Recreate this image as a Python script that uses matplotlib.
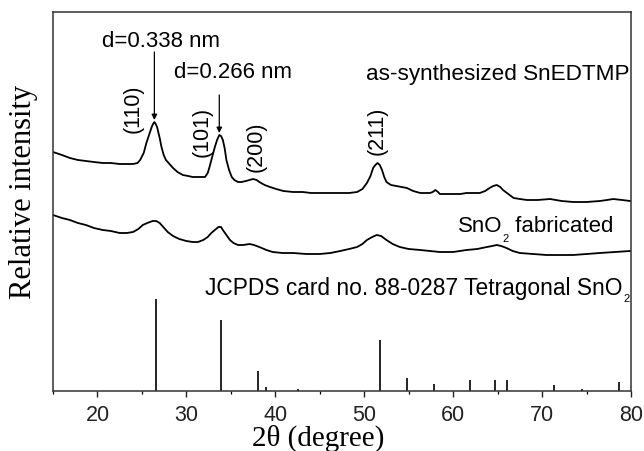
import matplotlib
matplotlib.use("Agg")
import matplotlib.pyplot as plt
from matplotlib.ticker import MultipleLocator

# ---- data (y in arbitrary offset units) ----
two_theta_top = [15.0, 16.0, 16.9, 17.8, 18.7, 19.6, 20.6, 21.5, 22.5, 23.3, 24.0, 24.5, 24.8,
                 25.2, 25.5, 25.8, 26.1, 26.25, 26.4, 26.55, 26.7, 27.0, 27.2, 27.45, 27.7,
                 28.1, 28.5, 29.0, 29.6, 30.2, 30.7, 31.4, 32.1, 32.4, 32.6, 32.9, 33.2, 33.45,
                 33.7, 33.9, 34.1, 34.3, 34.5, 34.8, 35.1, 35.4, 35.8, 36.2, 36.7, 37.1, 37.5,
                 37.9, 38.2, 38.8, 39.4, 40.1, 40.9, 42.0, 43.1, 44.0, 45.0, 46.2, 47.3, 48.3,
                 49.2, 49.8, 50.3, 50.7, 51.0, 51.25, 51.5, 51.75, 52.0, 52.25, 52.5, 53.0,
                 53.6, 54.2, 54.8, 55.5, 56.3, 57.0, 57.4, 57.7, 58.0, 58.3, 58.5, 59.2, 60.0,
                 60.8, 61.5, 62.2, 63.0, 63.6, 64.1, 64.5, 64.9, 65.3, 65.6, 66.2, 66.8, 67.5,
                 68.3, 69.5, 70.9, 72.2, 73.5, 75.0, 76.5, 77.3, 78.0, 79.0, 79.9]
intensity_top = [239, 236, 233, 231, 230, 229, 228, 228, 227, 227, 227, 228, 231,
                 238, 248, 256, 264, 267, 269, 267, 264, 253, 244, 236, 231,
                 227, 223, 219, 216, 215, 214, 214, 214, 218, 224, 234, 244, 251,
                 256, 255, 251, 243, 231, 221, 214, 211, 209, 209, 210, 211, 212,
                 211, 209, 206, 204, 202, 200, 199, 199, 198, 198, 198, 198, 198,
                 199, 202, 208, 215, 223, 226, 228, 226, 221, 214, 209, 206,
                 205, 204, 203, 200, 198, 198, 198, 199, 201, 199, 197, 197, 197,
                 197, 198, 198, 198, 200, 203, 205, 206, 204, 201, 197, 193, 192,
                 191, 191, 192, 190, 189, 189, 190, 191, 192, 191, 190]

two_theta_fab = [15.0, 16.0, 16.9, 17.8, 18.7, 19.6, 20.6, 21.5, 22.5, 23.3, 24.0, 24.6, 25.1,
                 25.6, 26.2, 26.6, 27.0, 27.4, 27.9, 28.5, 29.2, 30.0, 30.7, 31.3, 31.9,
                 32.4, 32.8, 33.2, 33.6, 33.9, 34.1, 34.5, 34.9, 35.3, 35.8, 36.4, 37.1, 37.6,
                 38.2, 39.0, 39.7, 40.8, 42.0, 43.5, 45.0, 46.2, 47.3, 48.3, 49.2, 49.8, 50.3,
                 50.9, 51.4, 51.9, 52.5, 53.2, 54.0, 55.0, 56.3, 57.4, 58.5, 60.0, 61.5, 62.7,
                 63.8, 64.4, 64.9, 65.4, 66.0, 66.7, 67.5, 69.0, 70.5, 72.0, 73.5, 75.0, 76.5,
                 78.2, 79.9]
intensity_fab = [176, 173, 171, 168, 166, 163, 161, 160, 158, 158, 159, 162, 166,
                 168, 170, 170, 168, 164, 159, 155, 152, 150, 149, 149, 151,
                 154, 158, 161, 164, 164, 161, 156, 151, 148, 146, 146, 147, 146,
                 144, 141, 139, 138, 138, 137, 137, 138, 140, 142, 144, 147, 151,
                 154, 156, 155, 151, 147, 144, 142, 141, 140, 139, 139, 141, 142,
                 144, 145, 146, 145, 143, 140, 138, 137, 136, 136, 136, 137, 138,
                 139, 140]

jcpds_pos = [26.6, 33.9, 38.0, 39.0, 42.6, 51.8, 54.8, 57.8, 61.9, 64.7, 66.0, 71.3, 74.5, 78.7]
jcpds_int = [92, 71, 20, 4, 2, 51, 13, 7, 11, 11, 11, 6, 2, 9]

x_ticks = [20, 30, 40, 50, 60, 70, 80]

peak_labels = ["(110)", "(101)", "(200)", "(211)"]
peak_label_x = [24.0, 31.8, 37.8, 51.5]
peak_label_y = [282, 259, 244, 260]

# ---- style ----
SANS = "Liberation Sans"
SERIF = "Liberation Serif"
FS = 16

fig = plt.figure(figsize=(6.44, 4.51), dpi=100)
ax = fig.add_axes([53/644, 1-391/451, (631-53)/644, (391-12)/451])

ax.plot(two_theta_top, intensity_top, color="black", lw=1.3)
ax.plot(two_theta_fab, intensity_fab, color="black", lw=1.3)
ax.vlines(jcpds_pos, 0, jcpds_int, color="black", lw=1.2)

ax.set_xlim(15, 80)
ax.set_ylim(0, 379)
ax.set_xticks(x_ticks)
ax.xaxis.set_minor_locator(MultipleLocator(5))
ax.set_yticks([])
ax.tick_params(axis="x", which="major", direction="out", length=4, width=1.0,
               pad=6, labelsize=15.5, colors="#222222")
ax.tick_params(axis="x", which="minor", direction="out", length=2.5, width=0.9)
for lab in ax.get_xticklabels():
    lab.set_fontfamily(SANS)
for sp in ax.spines.values():
    sp.set_linewidth(1.1)
    sp.set_color("#333333")

# annotations
ax.text(20.5, 344, "d=0.338 nm", fontsize=FS, family=SANS, ha="left", va="baseline")
ax.text(28.6, 313, "d=0.266 nm", fontsize=FS, family=SANS, ha="left", va="baseline")
ax.annotate("", xy=(26.4, 271), xytext=(26.4, 339),
            arrowprops=dict(arrowstyle="-|>", lw=0.9, color="black", mutation_scale=8,
                            shrinkA=0, shrinkB=0))
ax.annotate("", xy=(33.7, 258), xytext=(33.7, 296),
            arrowprops=dict(arrowstyle="-|>", lw=0.9, color="black", mutation_scale=8,
                            shrinkA=0, shrinkB=0))
ax.text(79.8, 311, "as-synthesized SnEDTMP", fontsize=16.2, family=SANS, ha="right", va="baseline")

for lab, xx, yy in zip(peak_labels, peak_label_x, peak_label_y):
    ax.text(xx, yy, lab, fontsize=15.5, family=SANS, rotation=90, ha="center", va="center")

# SnO2 fabricated
t1 = ax.text(60.5, 159, "SnO", fontsize=FS, family=SANS, ha="left", va="baseline")
t2 = ax.annotate("2", xy=(1, 159), xycoords=(t1, "data"), xytext=(0.5, -7),
                 textcoords="offset points", fontsize=8, family=SANS, ha="left", va="baseline")
t3 = ax.annotate(" fabricated", xy=(1, 159), xycoords=(t2, "data"), xytext=(0, 0),
                 textcoords="offset points", fontsize=FS, family=SANS, ha="left", va="baseline")

# JCPDS
j1 = ax.text(32.1, 96, "JCPDS card no. 88-0287 Tetragonal SnO", fontsize=16.4, family=SANS,
             ha="left", va="baseline")
j2 = ax.annotate("2", xy=(1, 96), xycoords=(j1, "data"), xytext=(0.3, -5),
                 textcoords="offset points", fontsize=8, family=SANS, ha="left", va="baseline")

fig.text(24/644, 1-192/451, "Relative intensity", family=SERIF, fontsize=22,
         rotation=90, ha="center", va="center")
fig.text(318/644, 1-438/451, "2θ (degree)", family=SERIF, fontsize=21,
         ha="center", va="center")

fig.savefig("out.png", dpi=100)
